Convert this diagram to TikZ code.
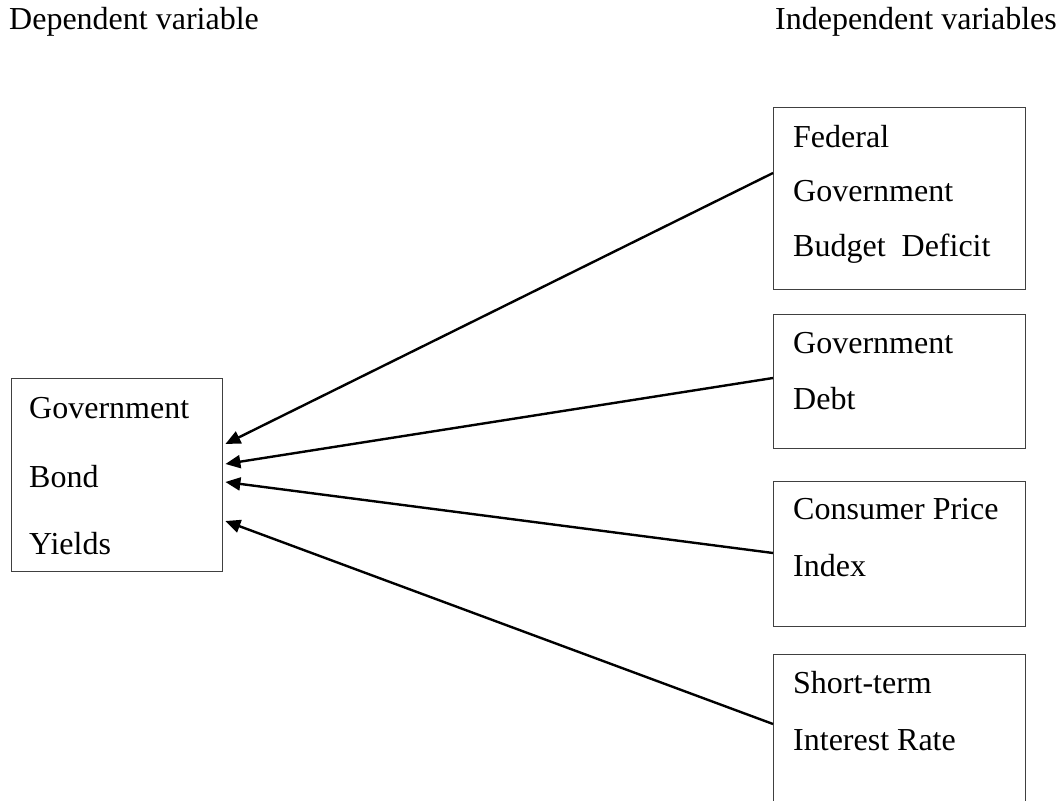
\documentclass[tikz,border=0pt]{standalone}
\usepackage{fontspec}
\setmainfont{Liberation Serif}
\usetikzlibrary{arrows.meta,calc}
\begin{document}
\begin{tikzpicture}[x=1bp,y=-1bp,
  box/.style={draw=black!75, line width=1.4bp, inner sep=0, anchor=north west},
  txt/.style={font=\fontsize{32bp}{38bp}\selectfont, inner sep=0, anchor=base west},
  conn/.style={line width=2.4bp, -{Triangle[length=15bp,width=13bp]}}]
\useasboundingbox[fill=white] (0,0) rectangle (1062,801);
% headers
\node[txt] (hdep) at (9,30) {Dependent variable};
\node[txt, anchor=base east] (hind) at (1057,30) {Independent variables};
% dependent box
\node[box, minimum width=211bp, minimum height=193bp] (dep) at (11,378) {};
\node[txt] (d1) at ($(dep.north west)+(18,40)$) {Government};
\node[txt] (d2) at ($(dep.north west)+(18,109)$) {Bond};
\node[txt] (d3) at ($(dep.north west)+(18,176)$) {Yields};
% independent boxes
\node[box, minimum width=252bp, minimum height=182bp] (b1) at (773,107) {};
\node[txt] (b1a) at ($(b1.north west)+(20,40)$) {Federal};
\node[txt] (b1b) at ($(b1.north west)+(20,94)$) {Government};
\node[txt] (b1c) at ($(b1.north west)+(20,149)$) {Budget\ \ Deficit};
\node[box, minimum width=252bp, minimum height=134bp] (b2) at (773,314) {};
\node[txt] (b2a) at ($(b2.north west)+(20,39)$) {Government};
\node[txt] (b2b) at ($(b2.north west)+(20,95)$) {Debt};
\node[box, minimum width=252bp, minimum height=145bp] (b3) at (773,481) {};
\node[txt] (b3a) at ($(b3.north west)+(20,38)$) {Consumer Price};
\node[txt] (b3b) at ($(b3.north west)+(20,95)$) {Index};
\node[box, minimum width=252bp, minimum height=170bp] (b4) at (773,654) {};
\node[txt] (b4a) at ($(b4.north west)+(20,39)$) {Short-term};
\node[txt] (b4b) at ($(b4.north west)+(20,96)$) {Interest Rate};
% connector end points
\coordinate (s1) at ($(b1.north west)+(0,66)$);
\coordinate (s2) at ($(b2.north west)+(0,64)$);
\coordinate (s3) at ($(b3.north west)+(0,72)$);
\coordinate (s4) at ($(b4.north west)+(0,70)$);
\coordinate (e1) at ($(dep.north east)+(2,66)$);
\coordinate (e2) at ($(dep.north east)+(2,86)$);
\coordinate (e3) at ($(dep.north east)+(2,104)$);
\coordinate (e4) at ($(dep.north east)+(2,143)$);
\draw[conn] (s1) -- (e1);
\draw[conn] (s2) -- (e2);
\draw[conn] (s3) -- (e3);
\draw[conn] (s4) -- (e4);
\end{tikzpicture}
\end{document}
